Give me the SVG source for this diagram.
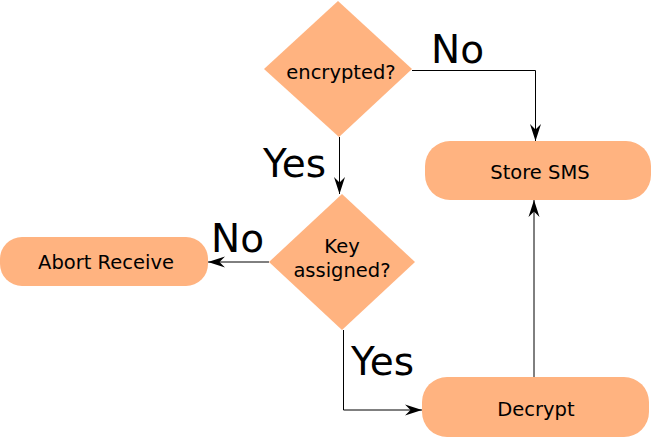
<svg xmlns="http://www.w3.org/2000/svg" width="652" height="438" viewBox="0 0 652 438">
<defs>
<style>
.shape{fill:#FFB380;stroke:none}
.t{font-family:"DejaVu Sans",sans-serif;font-size:19.5px;fill:#000;text-anchor:middle}
.lbl{font-family:"DejaVu Sans",sans-serif;font-size:39px;fill:#000}
.c{fill:none;stroke:#000;stroke-width:1}
</style>
<marker id="arr" markerUnits="userSpaceOnUse" markerWidth="20" markerHeight="14" viewBox="-18 -7 19 14" refX="0" refY="0" orient="auto">
<path d="M0,0 L-17,-5.5 L-11.5,0 L-17,5.5 Z" fill="#000"/>
</marker>
</defs>
<rect width="652" height="438" fill="#fff"/>
<g id="connectors">
<polyline class="c" points="412,70.5 535.5,70.5 535.5,141" marker-end="url(#arr)"/>
<line class="c" x1="339.5" y1="137" x2="339.5" y2="194" marker-end="url(#arr)"/>
<line class="c" x1="269" y1="262" x2="208" y2="262" marker-end="url(#arr)"/>
<polyline class="c" points="343.5,330 343.5,410 422,410" marker-end="url(#arr)"/>
<line class="c" x1="534" y1="377" x2="534" y2="200" marker-end="url(#arr)"/>
<text class="lbl" x="431" y="63">No</text>
<text class="lbl" x="263" y="177">Yes</text>
<text class="lbl" x="211" y="252">No</text>
<text class="lbl" x="351" y="375">Yes</text>
</g>
<g id="encrypted">
<polygon class="shape" points="338,1 412,69 339,137 264,69"/>
<text class="t" x="341" y="79">encrypted?</text>
</g>
<g id="key">
<polygon class="shape" points="342,194 415,262 342,330 269,262"/>
<text class="t" x="342" y="253">Key</text>
<text class="t" x="342" y="277">assigned?</text>
</g>
<g id="store">
<rect class="shape" x="425" y="141" width="226" height="59" rx="25" ry="25"/>
<text class="t" x="540" y="179">Store SMS</text>
</g>
<g id="abort">
<rect class="shape" x="0" y="237" width="208" height="49" rx="22" ry="22"/>
<text class="t" x="106" y="269">Abort Receive</text>
</g>
<g id="decrypt">
<rect class="shape" x="422" y="377" width="227" height="60" rx="25" ry="25"/>
<text class="t" x="536" y="416">Decrypt</text>
</g>
</svg>
